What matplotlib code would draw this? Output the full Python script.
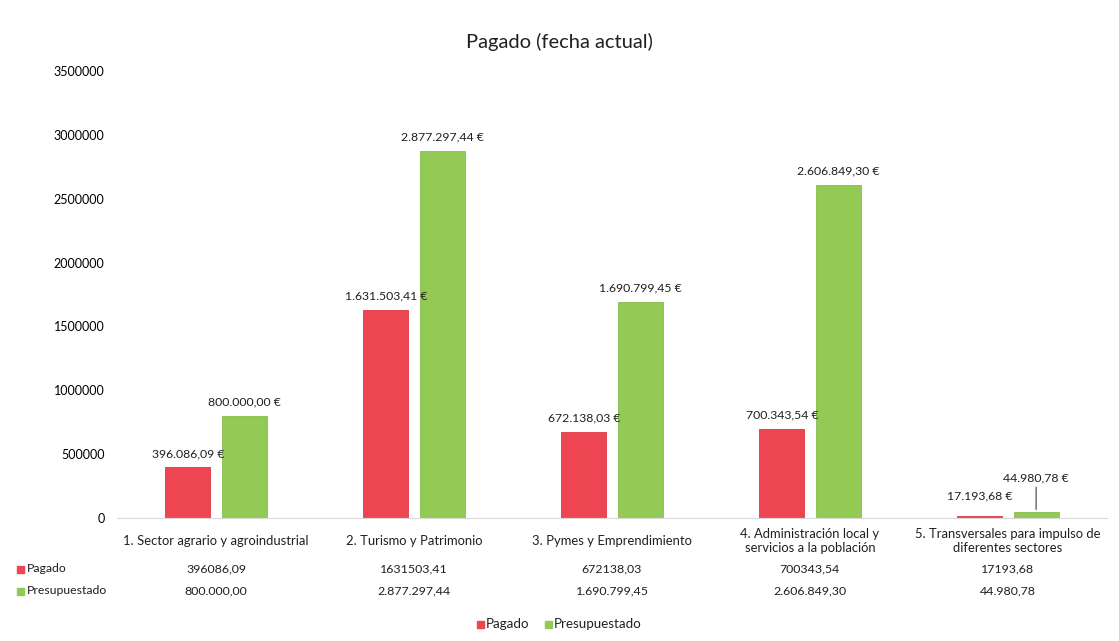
import matplotlib
matplotlib.use("Agg")
import matplotlib.pyplot as plt
import matplotlib.transforms as mtransforms
from matplotlib.patches import Rectangle
import numpy as np

plt.rcParams['font.family'] = ['Lato', 'DejaVu Sans']

categorias = ["1. Sector agrario y agroindustrial",
              "2. Turismo y Patrimonio",
              "3. Pymes y Emprendimiento",
              "4. Administración local y\nservicios a la población",
              "5. Transversales para impulso de\ndiferentes sectores"]
pagado = [396086.09, 1631503.41, 672138.03, 700343.54, 17193.68]
presupuestado = [800000.00, 2877297.44, 1690799.45, 2606849.30, 44980.78]
# texto tal cual sale en la tabla de datos
tabla_pagado = ["396086,09", "1631503,41", "672138,03", "700343,54", "17193,68"]
tabla_presup = ["800.000,00", "2.877.297,44", "1.690.799,45", "2.606.849,30", "44.980,78"]
yticks = [0, 500000, 1000000, 1500000, 2000000, 2500000, 3000000, 3500000]

rojo = "#ee4553"
verde = "#93c955"
W, H = 1119, 641


def euro(v):
    s = f"{v:,.2f}"
    s = s.replace(",", "X").replace(".", ",").replace("X", ".")
    return s + " €"


def fy(py):
    # pixel desde arriba -> fraccion de figura
    return 1 - py / H


fig = plt.figure(figsize=(W / 100, H / 100), dpi=100)
ax = fig.add_axes([117 / W, fy(518), 990 / W, (518 - 71) / H])

x = np.arange(len(categorias))
off = 0.142
ancho = 0.228
ax.bar(x - off, pagado, ancho, color=rojo, edgecolor="#e03845", linewidth=0.6)
ax.bar(x + off, presupuestado, ancho, color=verde, edgecolor="#88bd4c", linewidth=0.6)

ax.set_xlim(-0.5, len(categorias) - 0.5)
ax.set_ylim(0, 3500000)
ax.set_yticks(yticks)
ax.set_yticklabels([str(t) for t in yticks], fontsize=9)
ax.tick_params(axis="y", length=0, pad=9)
ax.set_xticks([])
for s in ["top", "right", "left"]:
    ax.spines[s].set_visible(False)
ax.spines["bottom"].set_color("#d9d9d9")

# etiquetas de datos
for i in range(len(categorias)):
    dy_r = 10
    dy_v = 10
    if i == len(categorias) - 1:
        dy_r = 14
        dy_v = 25
        ax.annotate("", xy=(x[i] + off, presupuestado[i]), xycoords="data",
                    xytext=(0, dy_v - 5), textcoords="offset points",
                    arrowprops=dict(arrowstyle="-", color="#404040", lw=0.8))
    ax.annotate(euro(pagado[i]), (x[i] - off, pagado[i]), xytext=(0, dy_r),
                textcoords="offset points", ha="center", va="center",
                fontsize=8.8, color="#202020")
    ax.annotate(euro(presupuestado[i]), (x[i] + off, presupuestado[i]), xytext=(0, dy_v),
                textcoords="offset points", ha="center", va="center",
                fontsize=8.8, color="#202020")

# tabla de datos bajo el eje
tr = mtransforms.blended_transform_factory(ax.transData, fig.transFigure)
for i in range(len(categorias)):
    ax.text(x[i], fy(541), categorias[i], transform=tr, ha="center", va="center",
            fontsize=9.4, linespacing=1.3, color="#202020")
    ax.text(x[i], fy(569), tabla_pagado[i], transform=tr, ha="center", va="center",
            fontsize=8.9, color="#202020")
    ax.text(x[i], fy(591), tabla_presup[i], transform=tr, ha="center", va="center",
            fontsize=8.9, color="#202020")

series = ["Pagado", "Presupuestado"]
colores = [rojo, verde]
for j, (nom, col) in enumerate(zip(series, colores)):
    yy = [569, 591][j]
    fig.patches.append(Rectangle((17 / W, fy(yy + 4)), 7 / W, 7 / H,
                                 transform=fig.transFigure, color=col))
    fig.text(27 / W, fy(yy), nom, ha="left", va="center", fontsize=8.8, color="#202020")

# leyenda inferior
leg_x = [477, 545]
for j, (nom, col) in enumerate(zip(series, colores)):
    fig.patches.append(Rectangle((leg_x[j] / W, fy(628)), 7 / W, 7 / H,
                                 transform=fig.transFigure, color=col))
    fig.text((leg_x[j] + 9) / W, fy(624), nom, ha="left", va="center",
             fontsize=9.6, color="#202020")

fig.text(559 / W, fy(42), "Pagado (fecha actual)", ha="center", va="center",
         fontsize=14.5, color="#202020")

fig.savefig("out.png", dpi=100, facecolor="white")
